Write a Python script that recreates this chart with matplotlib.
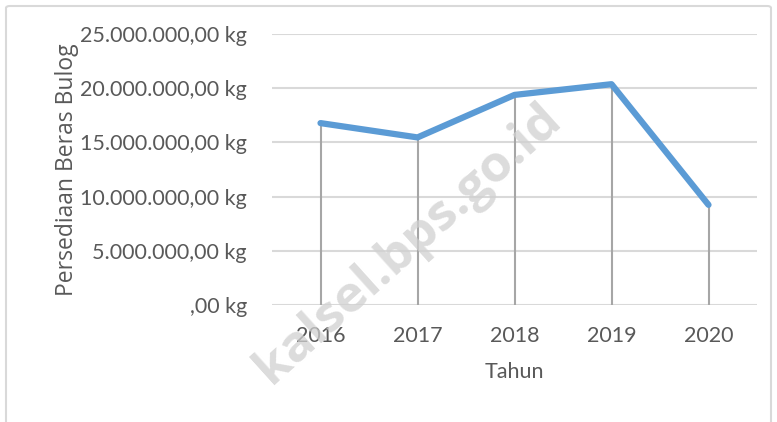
import matplotlib
matplotlib.use("Agg")
import matplotlib.pyplot as plt
from matplotlib.patches import FancyBboxPatch
from matplotlib.ticker import FuncFormatter

years = ["2016", "2017", "2018", "2019", "2020"]
stock_kg = [16780000, 15460000, 19380000, 20370000, 9240000]
y_ticks = [0, 5000000, 10000000, 15000000, 20000000, 25000000]

plt.rcParams['font.family'] = ['Lato', 'DejaVu Sans']

fig = plt.figure(figsize=(7.77, 4.22), dpi=100)
fig.patch.set_facecolor('white')

# chart frame
frame = FancyBboxPatch((6/777, -0.1), 765/777, 1.1 - 6/422, boxstyle="round,pad=0,rounding_size=0.005",
                       transform=fig.transFigure, fill=False, edgecolor='#d9d9d9', linewidth=1.5)
fig.patches.append(frame)

ax = fig.add_axes([272/777, 1 - 305/422, 485/777, 271/422])
x = list(range(len(years)))

for yv in y_ticks:
    ax.axhline(yv, color='#d9d9d9', linewidth=1.5, zorder=1)

ax.vlines(x, 0, stock_kg, color='#a6a6a6', linewidth=1.5, zorder=2)
ax.plot(x, stock_kg, color='#5b9bd5', linewidth=4.5, solid_capstyle='round', solid_joinstyle='round', zorder=3)

ax.set_xlim(-0.5, len(years) - 0.5)
ax.set_ylim(0, 25000000)
ax.set_xticks(x)
ax.set_xticklabels(years)
ax.set_yticks(y_ticks)

def fmt(v, pos):
    if v == 0:
        return ",00 kg"
    s = f"{int(v):,}".replace(",", ".")
    return s + ",00 kg"

ax.yaxis.set_major_formatter(FuncFormatter(fmt))
for s in ax.spines.values():
    s.set_visible(False)
ax.tick_params(axis='both', length=0, colors='#595959', labelsize=15.5)
ax.tick_params(axis='y', pad=18)
ax.tick_params(axis='x', pad=15)
ax.set_xlabel("Tahun", fontsize=15.5, color='#595959', labelpad=12)
ax.set_ylabel("Persediaan Beras Bulog", fontsize=16.5, color='#595959', family=['Open Sans', 'DejaVu Sans'], labelpad=1)
ax.patch.set_alpha(0)

fig.text(408/777, 1 - 244/422, "kalsel.bps.go.id", rotation=42, fontsize=37, fontweight='bold',
         color='#d0d0d0', alpha=0.75, ha='center', va='center', family=['Open Sans', 'DejaVu Sans'])

fig.savefig("out.png", dpi=100)
